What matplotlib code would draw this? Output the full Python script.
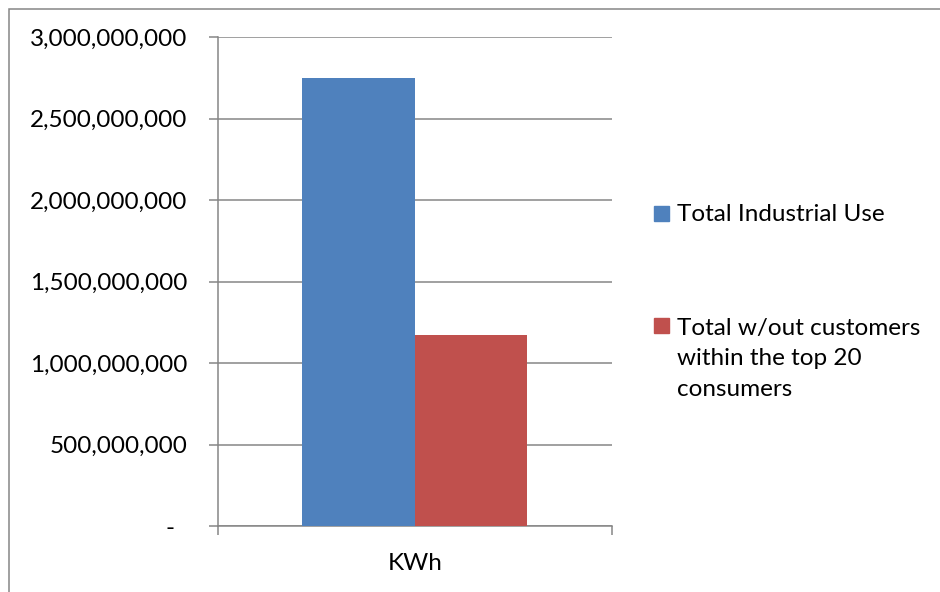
import matplotlib
matplotlib.use("Agg")
import matplotlib.pyplot as plt
import matplotlib.transforms as mtrans
from matplotlib.patches import Rectangle
from matplotlib.ticker import FuncFormatter, FixedLocator

# Data
categories = ["KWh"]
series_names = ["Total Industrial Use",
                "Total w/out customers\nwithin the top 20\nconsumers"]
series_values = [2_750_000_000, 1_174_000_000]
y_ticks = [0, 500_000_000, 1_000_000_000, 1_500_000_000,
           2_000_000_000, 2_500_000_000, 3_000_000_000]

BLUE = "#4F81BD"
RED = "#C0504D"
GRID = "#868686"
FONT = "Lato"
FS = 17.5

plt.rcParams["font.family"] = [FONT, "DejaVu Sans"]

W, H = 940, 592
fig = plt.figure(figsize=(W / 100, H / 100), dpi=100)
ax = fig.add_axes([217.7 / W, 1 - 526.3 / H, (612 - 217.7) / W, (526.3 - 37.3) / H])

bar_w = 0.2855
colors = [BLUE, RED]
offsets = [-bar_w / 2, bar_w / 2]
for val, col, off in zip(series_values, colors, offsets):
    ax.bar(0 + off, val, width=bar_w, color=col, zorder=3)

ax.set_xlim(-0.5, 0.5)
ax.set_ylim(0, 3_000_000_000)

# gridlines
ax.yaxis.set_major_locator(FixedLocator(y_ticks))
ax.grid(axis="y", color=GRID, linewidth=1.1, zorder=0)
ax.set_axisbelow(True)


def fmt(v, _):
    if v == 0:
        return "-"
    return f"{int(v):,}"


ax.yaxis.set_major_formatter(FuncFormatter(fmt))
ax.tick_params(axis="y", length=6.3, width=1.1, color=GRID, pad=15.5,
               labelsize=FS, labelcolor="black")

# x axis: boundary ticks plus centered category label
ax.set_xticks([-0.5, 0.5])
ax.set_xticklabels(["", ""])
ax.tick_params(axis="x", which="major", length=6.3, width=1.1, color=GRID)
ax.set_xticks([0], minor=True)
ax.set_xticklabels(categories, minor=True)
ax.tick_params(axis="x", which="minor", length=0, pad=19, labelsize=FS)

for side in ["top", "right"]:
    ax.spines[side].set_visible(False)
for side in ["left", "bottom"]:
    ax.spines[side].set_color(GRID)
    ax.spines[side].set_linewidth(1.1)

fig.canvas.draw()
# accounting-style dash for zero sits a little left of the digits
zero_lbl = ax.get_yticklabels()[0]
zero_lbl.set_transform(zero_lbl.get_transform() +
                       mtrans.ScaledTranslation(-13 / 100, 0, fig.dpi_scale_trans))


def fx(px):
    return px / W


def fy(py):
    return 1 - py / H


# legend drawn as patches and text in figure pixels
marker_centers = [213.5, 325]
text_tops = [204, 317.5]
for name, col, yc, yt in zip(series_names, colors, marker_centers, text_tops):
    fig.patches.append(Rectangle((fx(654), fy(yc + 7.5)), 15 / W, 15 / H,
                                 transform=fig.transFigure, color=col))
    fig.text(fx(677), fy(yt), name, ha="left", va="top", fontsize=FS,
             linespacing=1.56, color="black")

# outer chart frame
fig.patches.append(Rectangle((fx(8.5), -0.05), 1.1, fy(8.5) + 0.05,
                             transform=fig.transFigure, fill=False,
                             edgecolor=GRID, linewidth=1.1))

fig.savefig("out.png", dpi=100)
